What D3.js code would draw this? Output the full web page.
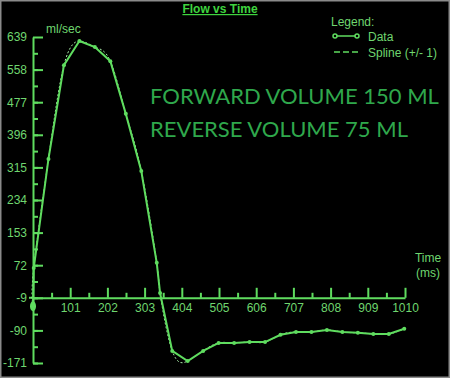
<!DOCTYPE html>
<html>
<head>
<meta charset="utf-8">
<script src="https://cdn.jsdelivr.net/npm/d3@7"></script>
<style>
  body { margin: 0; background: #000; }
  svg { display: block; }
</style>
</head>
<body>
<svg id="chart"></svg>
<script>
// data
const times = [0, 2, 42, 84, 126, 168, 210, 252, 294, 336, 345, 378, 420, 462, 504, 546, 588, 630, 672, 714, 756, 798, 840, 882, 924, 966, 1008];
const flows = [-30, 65, 336, 569, 629, 614, 579, 448, 306, 78, 3, -141, -166, -141, -121, -121, -119, -119, -101, -94, -94, -89, -94, -96, -99, -99, -86];
const yTicks = [639, 558, 477, 396, 315, 234, 153, 72, -9, -90, -171];
const xTicks = [101, 202, 303, 404, 505, 606, 707, 808, 909, 1010];
const notes = ['FORWARD VOLUME 150 ML', 'REVERSE VOLUME 75 ML'];

const width = 450, height = 378;
const green = '#5fdc5f';
const textGreen = '#6fd66f';

const svg = d3.select('#chart').attr('width', width).attr('height', height);

svg.append('rect')
  .attr('x', 0.5).attr('y', 0.5)
  .attr('width', width - 1).attr('height', height - 1)
  .attr('fill', '#000').attr('stroke', '#8a8a8a').attr('stroke-width', 2);

const x = d3.scaleLinear().domain([0, 1010]).range([33, 405]);
const y = d3.scaleLinear().domain([-171, 639]).range([363, 37]);
const plain = d => String(d);

// y axis (ticks point right, labels on the left)
const yMinor = d3.range(-171, 639, 40.5);
svg.append('g')
  .attr('transform', 'translate(33,0)')
  .call(d3.axisLeft(y).tickValues(yMinor).tickSizeInner(-5).tickSizeOuter(0).tickFormat(''))
  .call(g => g.select('.domain').remove());
svg.append('g')
  .attr('class', 'yaxis')
  .attr('transform', 'translate(33,0)')
  .call(d3.axisLeft(y).tickValues(yTicks).tickSizeInner(-10).tickSizeOuter(0).tickPadding(6).tickFormat(plain));

// x axis sits on the -9 line
const xMinor = d3.range(50.5, 1010, 101);
svg.append('g')
  .attr('transform', `translate(0,${y(-9)})`)
  .call(d3.axisBottom(x).tickValues(xMinor).tickSizeInner(-5).tickSizeOuter(0).tickFormat(''))
  .call(g => g.select('.domain').remove());
svg.append('g')
  .attr('class', 'xaxis')
  .attr('transform', `translate(0,${y(-9)})`)
  .call(d3.axisBottom(x).tickValues(xTicks).tickSizeInner(-10).tickSizeOuter(0).tickPadding(6).tickFormat(plain));

svg.selectAll('.domain, .tick line').attr('stroke', green).attr('stroke-width', 2);
svg.selectAll('.tick text')
  .attr('fill', textGreen)
  .style('font-family', 'Liberation Sans, Arial, sans-serif')
  .style('font-size', '12px');

// extend x axis a little left of the y axis
svg.append('line')
  .attr('x1', 29).attr('x2', 33)
  .attr('y1', y(-9)).attr('y2', y(-9))
  .attr('stroke', green).attr('stroke-width', 2);

const pts = times.map((t, i) => [t, flows[i]]);

// spline
svg.append('path')
  .datum(pts)
  .attr('fill', 'none')
  .attr('stroke', '#a8eca8')
  .attr('stroke-width', 1)
  .attr('stroke-dasharray', '2,2')
  .attr('d', d3.line().x(d => x(d[0])).y(d => y(d[1])).curve(d3.curveNatural));

// data line
svg.append('path')
  .datum(pts)
  .attr('fill', 'none')
  .attr('stroke', green)
  .attr('stroke-width', 2)
  .attr('d', d3.line().x(d => x(d[0])).y(d => y(d[1])));

svg.selectAll('circle.pt')
  .data(pts)
  .enter()
  .append('circle')
  .attr('class', 'pt')
  .attr('cx', d => x(d[0]))
  .attr('cy', d => y(d[1]))
  .attr('r', 2)
  .attr('fill', green);

// start cursor
svg.append('ellipse')
  .attr('cx', x(times[0])).attr('cy', y(flows[0]))
  .attr('rx', 3).attr('ry', 5)
  .attr('fill', green);

// texts
svg.append('text')
  .text('Flow vs Time')
  .attr('x', 220).attr('y', 13)
  .attr('text-anchor', 'middle')
  .attr('fill', '#3fd43f')
  .attr('text-decoration', 'underline')
  .style('font-family', 'Liberation Sans, Arial, sans-serif')
  .style('font-size', '12px')
  .style('font-weight', 'bold');

svg.append('text')
  .text('ml/sec')
  .attr('x', 46).attr('y', 33)
  .attr('fill', textGreen)
  .style('font-family', 'Liberation Sans, Arial, sans-serif')
  .style('font-size', '12px');

svg.append('text').text('Time')
  .attr('x', 428).attr('y', 262).attr('text-anchor', 'middle')
  .attr('fill', textGreen)
  .style('font-family', 'Liberation Sans, Arial, sans-serif').style('font-size', '12px');
svg.append('text').text('(ms)')
  .attr('x', 428).attr('y', 277).attr('text-anchor', 'middle')
  .attr('fill', textGreen)
  .style('font-family', 'Liberation Sans, Arial, sans-serif').style('font-size', '12px');

// legend
const legend = svg.append('g').style('font-family', 'Liberation Sans, Arial, sans-serif').style('font-size', '12px');
legend.append('text').text('Legend:').attr('x', 331).attr('y', 26).attr('fill', textGreen);
legend.append('line').attr('x1', 335).attr('x2', 357).attr('y1', 36).attr('y2', 36)
  .attr('stroke', green).attr('stroke-width', 1.5);
legend.selectAll('circle').data([335, 357]).enter().append('circle')
  .attr('cx', d => d).attr('cy', 36).attr('r', 2)
  .attr('fill', '#000').attr('stroke', green).attr('stroke-width', 1.5);
legend.append('text').text('Data').attr('x', 368).attr('y', 41).attr('fill', textGreen);
legend.append('line').attr('x1', 334).attr('x2', 358).attr('y1', 52).attr('y2', 52)
  .attr('stroke', green).attr('stroke-width', 1.5).attr('stroke-dasharray', '6,3');
legend.append('text').text('Spline (+/- 1)').attr('x', 368).attr('y', 57).attr('fill', textGreen);

// volume notes
svg.selectAll('text.note')
  .data(notes)
  .enter()
  .append('text')
  .attr('class', 'note')
  .text(d => d)
  .attr('x', 150)
  .attr('y', (d, i) => 104 + i * 33)
  .attr('fill', '#2fa84c')
  .style('font-family', 'Lato, Open Sans, sans-serif')
  .style('font-size', '22px');
</script>
</body>
</html>
